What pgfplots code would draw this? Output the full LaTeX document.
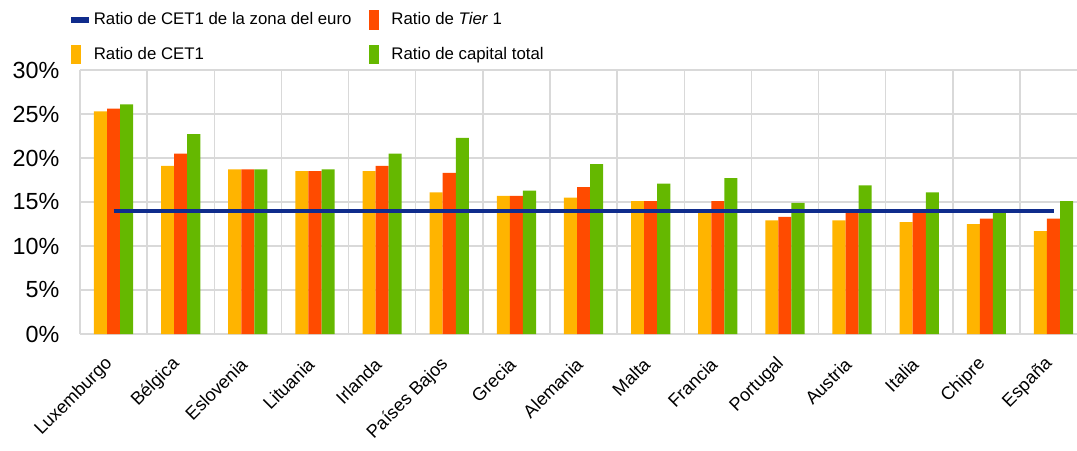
\documentclass[border=0pt]{standalone}
\usepackage{pgfplots}
\usepackage{pgfplotstable}
\pgfplotsset{compat=1.18}
\usepackage{fontspec}
\setmainfont{Liberation Sans}
\definecolor{cyel}{HTML}{FFB400}
\definecolor{cred}{HTML}{FF4B00}
\definecolor{cgrn}{HTML}{65B800}
\definecolor{cblu}{HTML}{0F2C8C}
\definecolor{cgrid}{HTML}{D9D9D9}

\pgfplotstableread{
x cet1 tier1 total
0 25.3 25.6 26.1
1 19.1 20.5 22.7
2 18.7 18.7 18.7
3 18.5 18.5 18.7
4 18.5 19.1 20.5
5 16.1 18.3 22.3
6 15.7 15.7 16.3
7 15.5 16.7 19.3
8 15.1 15.1 17.1
9 14.0 15.1 17.7
10 12.9 13.3 14.9
11 12.9 14.0 16.9
12 12.7 14.0 16.1
13 12.5 13.1 14.0
14 11.7 13.1 15.1
}\data

\begin{document}
\begin{tikzpicture}
\begin{axis}[
 at={(0,0)}, anchor=south west,
 scale only axis, width=747.75pt, height=198pt,
 xmin=-0.5, xmax=14.35, ymin=0, ymax=30,
 axis line style={draw=none},
 tick style={draw=none},
 xtick={0,...,14},
 xticklabels={Luxemburgo,Bélgica,Eslovenia,Lituania,Irlanda,Países Bajos,Grecia,Alemania,Malta,Francia,Portugal,Austria,Italia,Chipre,España},
 minor xtick={-0.5,0.5,...,13.5},
 xminorgrids=true, xmajorgrids=false,
 ytick={0,5,...,30},
 yticklabels={0\%,5\%,10\%,15\%,20\%,25\%,30\%},
 ymajorgrids=true,
 grid style={cgrid, line width=1.1pt},
 minor grid style={cgrid, line width=1.1pt},
 yticklabel style={font=\fontsize{17.5}{20}\selectfont, anchor=east, xshift=-12pt},
 xticklabel style={font=\fontsize{13.6}{15}\selectfont, xshift=-0.5pt, yshift=-18pt, rotate=45, anchor=east},
 legend columns=2,
 legend cell align=left,
 legend style={at={(axis description cs:-0.009,1.229)}, anchor=north west, draw=none, fill=none, inner sep=0pt,
   font=\fontsize{12.6}{14}\selectfont, /tikz/every even column/.append style={column sep=11pt}, row sep=11.5pt},
]
\addlegendimage{legend image code/.code={\fill[cblu] (0pt,-1.9pt) rectangle (12.75pt,1.9pt); \path (14.5pt,0pt);}}
\addlegendentry{Ratio de CET1 de la zona del euro}
\addlegendimage{legend image code/.code={\fill[cred] (0pt,-7pt) rectangle (6.75pt,7pt); \path (14.5pt,0pt);}}
\addlegendentry{Ratio de \textit{Tier} 1}
\addlegendimage{legend image code/.code={\fill[cyel] (0pt,-7pt) rectangle (6.75pt,7pt); \path (14.5pt,0pt);}}
\addlegendentry{Ratio de CET1}
\addlegendimage{legend image code/.code={\fill[cgrn] (0pt,-7pt) rectangle (6.75pt,7pt); \path (14.5pt,0pt);}}
\addlegendentry{Ratio de capital total}

\addplot[ybar, bar width=9.8pt, bar shift=-9.8pt, fill=cyel, draw=none, forget plot] table[x=x,y=cet1]{\data};
\addplot[ybar, bar width=9.8pt, bar shift=0pt, fill=cred, draw=none, forget plot] table[x=x,y=tier1]{\data};
\addplot[ybar, bar width=9.8pt, bar shift=9.8pt, fill=cgrn, draw=none, forget plot] table[x=x,y=total]{\data};
\addplot[cblu, line width=2.7pt, forget plot] coordinates {(0,14) (14,14)};
\end{axis}
\pgfresetboundingbox
\path[use as bounding box] (-60pt,-87pt) rectangle (747.75pt,250.5pt);
\end{tikzpicture}
\end{document}
